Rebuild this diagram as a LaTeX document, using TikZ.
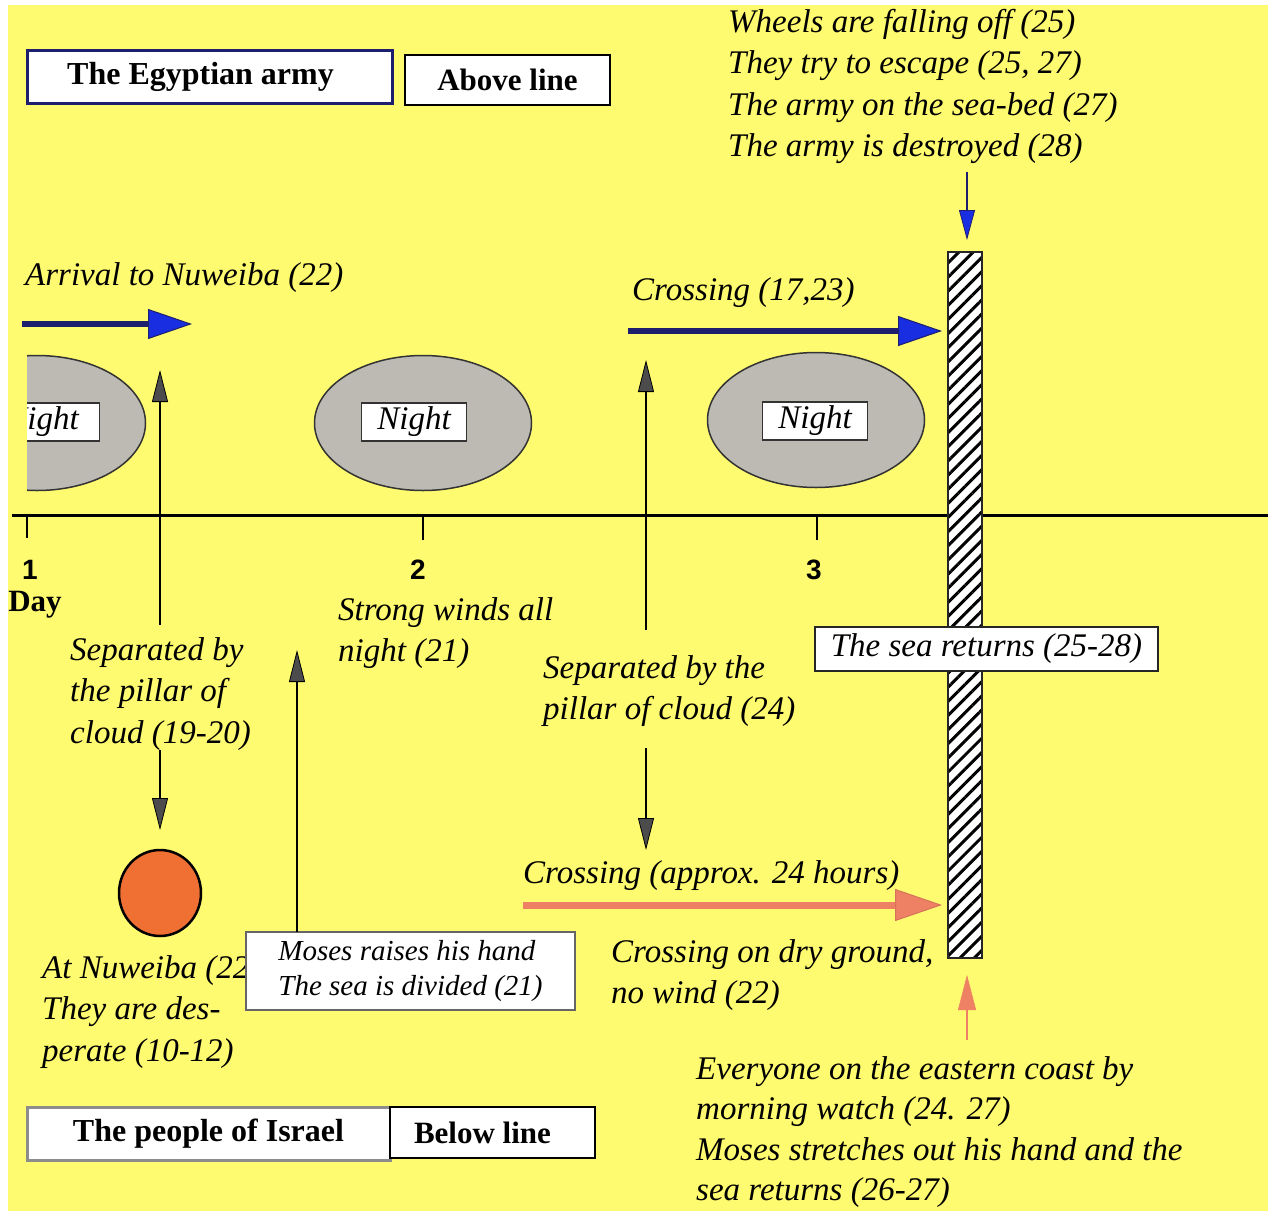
\documentclass[tikz,border=0pt]{standalone}
\usepackage{fontspec}
\setmainfont{Liberation Serif}
\newfontfamily\arialfont{Liberation Sans}
\usetikzlibrary{arrows.meta,patterns.meta,shapes.geometric}
\definecolor{bgyellow}{RGB}{255,251,112}
\definecolor{navy}{RGB}{30,30,110}
\definecolor{arrowblue}{RGB}{25,45,225}
\definecolor{nightgray}{RGB}{188,186,178}
\definecolor{salmon}{RGB}{238,128,100}
\definecolor{orangeball}{RGB}{240,112,52}
\tikzset{
  itxt/.style={font=\fontsize{33}{41.5}\selectfont\itshape, inner sep=0pt, align=left, anchor=north west},
  boldbox/.style={draw, fill=white, inner sep=0pt, font=\fontsize{32}{36}\selectfont\bfseries},
  nightell/.style={ellipse, draw=black!80, line width=1.5pt, fill=nightgray, minimum width=217pt, minimum height=135pt, inner sep=0pt},
  nightbox/.style={draw=black!80, line width=1.2pt, fill=white, minimum width=105pt, minimum height=38pt, inner sep=0pt, font=\fontsize{33}{36}\selectfont\itshape},
  thinarrow/.style={line width=1.3pt, -{Triangle[length=32pt,width=16pt,fill=black!70,line width=0.8pt]}},
  bigblue/.style={line width=6pt, draw=navy, -{Triangle[length=44pt,width=30pt,fill=arrowblue,color=navy,line width=1pt]}},
  bigsalmon/.style={line width=7pt, draw=salmon, -{Triangle[length=47pt,width=32pt,fill=salmon,color=salmon!90!black,line width=1pt]}},
  daynum/.style={font=\fontsize{28}{30}\selectfont\arialfont\bfseries, inner sep=0pt},
  tickline/.style={line width=2pt},
}
\begin{document}
\begin{tikzpicture}[x=1pt,y=-1pt]
\useasboundingbox (0,0) rectangle (1268,1211);
\fill[white] (0,0) rectangle (1268,1211);
\fill[bgyellow] (8,5) rectangle (1268,1211);

% night ellipses
\begin{scope}
  \clip (27,330) rectangle (220,510);
  \node[nightell] (e1) at (37,423) {};
  \node[nightbox] (n1) at (47,422) {\hspace*{-10pt}Night};
\end{scope}
\node[nightell] (e2) at (423,423) {};
\node[nightbox] (n2) at (414,422) {Night};
\node[nightell] (e3) at (816,420) {};
\node[nightbox] (n3) at (815,421) {Night};

% time axis
\coordinate (axL) at (12,515);
\coordinate (axR) at (1268,515);
\draw[line width=3pt] (axL) -- (axR);
\coordinate (t1) at (27,515);
\coordinate (t2) at (423,515);
\coordinate (t3) at (817,517);
\coordinate (t1b) at (27,538);
\coordinate (t2b) at (423,540);
\coordinate (t3b) at (817,540);
\draw[tickline] (t1) -- (t1b);
\draw[tickline] (t2) -- (t2b);
\draw[tickline] (t3) -- (t3b);
\node[daynum] (d1) at (30,570) {1};
\node[daynum] (d2) at (418,570) {2};
\node[daynum] (d3) at (814,570) {3};
\node[font=\fontsize{31}{32}\selectfont\bfseries, inner sep=0pt] (day) at (35,605) {Day};

% sea bar
\node[draw=black!85, line width=2pt, minimum width=34pt, minimum height=706pt, inner sep=0pt,
      preaction={fill=white}, pattern={Lines[angle=45,distance=10pt,line width=3pt]}] (sea) at (965,605) {};

% title boxes
\node[boldbox, draw=navy, line width=3pt, minimum width=365pt, minimum height=53pt] (egypt) at (209.5,76.5) {The Egyptian army\hspace*{18pt}};
\node[boldbox, line width=1.5pt, minimum width=205pt, minimum height=50pt, font=\fontsize{31}{34}\selectfont\bfseries] (above) at (507.5,80) {Above line};
\node[boldbox, draw=black!45, line width=3pt, minimum width=363pt, minimum height=53pt] (people) at (208.5,1133.5) {The people of Israel};
\node[boldbox, line width=1.5pt, minimum width=205pt, minimum height=51pt, font=\fontsize{31}{34}\selectfont\bfseries] (below) at (492.5,1132.5) {Below line\hspace*{20pt}};

% texts above the line
\node[itxt] (wheels) at (728,9) {Wheels are falling off (25)\\They try to escape (25, 27)\\The army on the sea-bed (27)\\The army is destroyed (28)};
\node[itxt] (arrival) at (25,262) {Arrival to Nuweiba (22)};
\node[itxt] (cross1) at (632,277) {Crossing (17,23)};

% blue arrows
\coordinate (a1s) at (22,324);
\coordinate (a1e) at (192,324);
\draw[bigblue] (a1s) -- (a1e);
\coordinate (a2s) at (628,331);
\coordinate (a2e) at (942,331);
\draw[bigblue] (a2s) -- (a2e);
\coordinate (wbs) at (967,172);
\coordinate (wbe) at (967,240);
\draw[line width=1.5pt, draw=navy, -{Triangle[length=30pt,width=16pt,fill=arrowblue,color=navy,line width=0.8pt]}] (wbs) -- (wbe);

% texts below the line
\node[itxt] (strong) at (338,597) {Strong winds all\\night (21)};
\node[itxt] (sep1) at (70,637) {Separated by\\the pillar of\\cloud (19-20)};
\node[itxt] (sep2) at (543,655) {Separated by the\\pillar of cloud (24)};
\node[itxt] (cross2) at (523,860) {Crossing (approx. 24 hours)};
\node[itxt] (dry) at (611,939) {Crossing on dry ground,\\no wind (22)};
\node[itxt] (nuweiba) at (42,955) {At Nuweiba (22)\\They are des-\\perate (10-12)};
\node[itxt, font=\fontsize{33}{40.5}\selectfont\itshape] (everyone) at (696,1056) {Everyone on the eastern coast by\\morning watch (24. 27)\\Moses stretches out his hand and the\\sea returns (26-27)};

% boxes with italic text
\node[draw=black!60, line width=2pt, fill=white, minimum width=329pt, minimum height=78pt, inner sep=0pt,
      font=\fontsize{29}{35}\selectfont\itshape, align=left] (moses) at (410.5,971) {Moses raises his hand\\The sea is divided (21)};
\node[draw=black!85, line width=1.5pt, fill=white, minimum width=343pt, minimum height=44pt, inner sep=0pt,
      font=\fontsize{33}{36}\selectfont\itshape] (returns) at (986.5,649) {The sea returns (25-28)};

% orange ball
\node[ellipse, draw=black, line width=2.5pt, fill=orangeball, minimum width=82pt, minimum height=86pt, inner sep=0pt] (ball) at (160,893) {};

% thin black arrows
\coordinate (u1s) at (160,625);
\coordinate (u1e) at (160,370);
\draw[thinarrow] (u1s) -- (u1e);
\coordinate (dn1s) at (160,750);
\coordinate (dn1e) at (160,830);
\draw[thinarrow] (dn1s) -- (dn1e);
\coordinate (mu) at (297,932);
\coordinate (mue) at (297,650);
\draw[thinarrow, line width=2pt] (mu) -- (mue);
\coordinate (u2s) at (646,630);
\coordinate (u2e) at (646,360);
\draw[thinarrow] (u2s) -- (u2e);
\coordinate (dn2s) at (646,748);
\coordinate (dn2e) at (646,850);
\draw[thinarrow] (dn2s) -- (dn2e);

% salmon arrows
\coordinate (o1s) at (523,905);
\coordinate (o1e) at (942,905);
\draw[bigsalmon] (o1s) -- (o1e);
\coordinate (o2s) at (967,1040);
\coordinate (o2e) at (967,975);
\draw[line width=1.5pt, draw=salmon, -{Triangle[length=35pt,width=18pt,fill=salmon,color=salmon,line width=0.5pt]}] (o2s) -- (o2e);
\end{tikzpicture}
\end{document}
